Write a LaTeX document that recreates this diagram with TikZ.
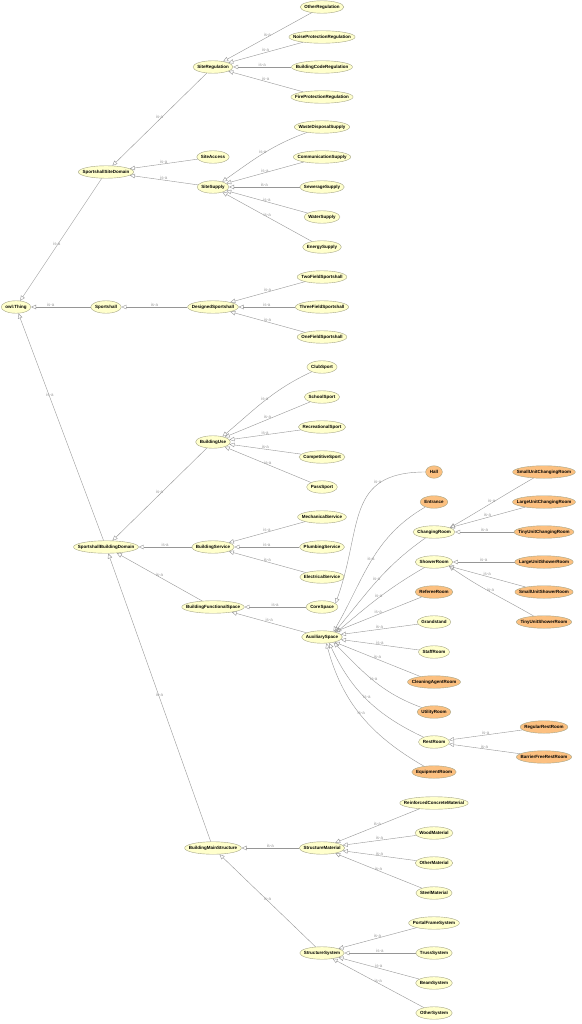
\documentclass[tikz,border=0pt]{standalone}
\usepackage{fontspec}
\setmainfont{Liberation Sans}
\usetikzlibrary{shapes.geometric,arrows.meta}

\definecolor{clsyellow}{RGB}{255,255,204}
\definecolor{clsorange}{RGB}{252,192,128}
\definecolor{clsborder}{RGB}{165,165,135}
\definecolor{isagray}{RGB}{150,150,150}

% ellipse hugs the text a bit tighter than the plain shape
\newcommand{\clsname}[1]{\makebox[0.7071\width]{#1}}

\tikzset{
  cls/.style={shape=ellipse, draw=clsborder, fill=clsyellow, line width=0.4pt,
    inner xsep=3pt, inner ysep=0pt, minimum height=12.5pt,
    text height=3.3pt, text depth=0.9pt,
    font=\fontsize{4.5}{5}\selectfont\bfseries},
  leaf/.style={cls, fill=clsorange},
  isa/.style={draw=isagray, line width=0.4pt, -{Triangle[open,length=5pt,width=4.5pt]}},
  lbl/.style={midway, above, inner sep=0.3pt, text=isagray, font=\fontsize{4.4}{5}\selectfont}
}

\begin{document}
\begin{tikzpicture}[x=1pt, y=-1pt]
\useasboundingbox (0,0) rectangle (581,1024);

% classes
\node[cls] (thing) at (16,307) {\clsname{owl:Thing}};
\foreach \n/\y in {SportshallSiteDomain/172, Sportshall/307, SportshallBuildingDomain/547}
  \node[cls] (\n) at (106,\y) {\clsname{\n}};
\foreach \n/\y in {SiteRegulation/67, SiteAccess/157, SiteSupply/187, DesignedSportshall/307,
    BuildingUse/442, BuildingService/547, BuildingFunctionalSpace/607, BuildingMainStructure/848}
  \node[cls] (\n) at (213,\y) {\clsname{\n}};
\foreach \n/\y in {OtherRegulation/7, NoiseProtectionRegulation/37, BuildingCodeRegulation/67,
    FireProtectionRegulation/97, WasteDisposalSupply/127, CommunicationSupply/157,
    SewerageSupply/187, WaterSupply/217, EnergySupply/247, TwoFieldSportshall/277,
    ThreeFieldSportshall/307, OneFieldSportshall/337, ClubSport/367, SchoolSport/397,
    RecreationalSport/427, CompetitiveSport/457, PassSport/487, MechanicalService/517,
    PlumbingService/547, ElectricalService/577, CoreSpace/607, AuxiliarySpace/637,
    StructureMaterial/848, StructureSystem/953}
  \node[cls] (\n) at (322,\y) {\clsname{\n}};
\foreach \n/\y in {ChangingRoom/532, ShowerRoom/562, Grandstand/622, StaffRoom/652, RestRoom/742,
    ReinforcedConcreteMaterial/803, WoodMaterial/833, OtherMaterial/863, SteelMaterial/893,
    PortalFrameSystem/923, TrussSystem/953, BeamSystem/983, OtherSystem/1013}
  \node[cls] (\n) at (434,\y) {\clsname{\n}};
\foreach \n/\y in {Hall/472, Entrance/502, RefereeRoom/592, CleaningAgentRoom/682,
    UtilityRoom/712, EquipmentRoom/772}
  \node[leaf] (\n) at (434,\y) {\clsname{\n}};
\foreach \n/\y in {SmallUnitChangingRoom/472, LargeUnitChangingRoom/502, TinyUnitChangingRoom/532,
    LargeUnitShowerRoom/562, SmallUnitShowerRoom/592, TinyUnitShowerRoom/622,
    RegularRestRoom/727, BarrierFreeRestRoom/757}
  \node[leaf] (\n) at (544,\y) {\clsname{\n}};

% is-a links to the root
\draw[isa] (SportshallSiteDomain) -- node[lbl,pos=0.55]{is-a} (thing);
\draw[isa] (Sportshall) -- node[lbl,pos=0.67]{is-a} (thing);
\draw[isa] (SportshallBuildingDomain) -- node[lbl,pos=0.63]{is-a} (thing);

% straight is-a links
\foreach \kid/\mom in {SiteRegulation/SportshallSiteDomain, SiteAccess/SportshallSiteDomain,
    SiteSupply/SportshallSiteDomain, DesignedSportshall/Sportshall,
    BuildingUse/SportshallBuildingDomain, BuildingService/SportshallBuildingDomain,
    BuildingFunctionalSpace/SportshallBuildingDomain, BuildingMainStructure/SportshallBuildingDomain,
    OtherRegulation/SiteRegulation, NoiseProtectionRegulation/SiteRegulation,
    BuildingCodeRegulation/SiteRegulation, FireProtectionRegulation/SiteRegulation,
    CommunicationSupply/SiteSupply, SewerageSupply/SiteSupply, WaterSupply/SiteSupply,
    EnergySupply/SiteSupply, TwoFieldSportshall/DesignedSportshall,
    ThreeFieldSportshall/DesignedSportshall, OneFieldSportshall/DesignedSportshall,
    SchoolSport/BuildingUse, RecreationalSport/BuildingUse, CompetitiveSport/BuildingUse,
    PassSport/BuildingUse, MechanicalService/BuildingService, PlumbingService/BuildingService,
    ElectricalService/BuildingService, CoreSpace/BuildingFunctionalSpace,
    AuxiliarySpace/BuildingFunctionalSpace, StructureMaterial/BuildingMainStructure,
    StructureSystem/BuildingMainStructure,
    RefereeRoom/AuxiliarySpace, Grandstand/AuxiliarySpace, StaffRoom/AuxiliarySpace,
    CleaningAgentRoom/AuxiliarySpace, ReinforcedConcreteMaterial/StructureMaterial,
    WoodMaterial/StructureMaterial, OtherMaterial/StructureMaterial, SteelMaterial/StructureMaterial,
    PortalFrameSystem/StructureSystem, TrussSystem/StructureSystem, BeamSystem/StructureSystem,
    OtherSystem/StructureSystem,
    LargeUnitChangingRoom/ChangingRoom, TinyUnitChangingRoom/ChangingRoom,
    LargeUnitShowerRoom/ShowerRoom, SmallUnitShowerRoom/ShowerRoom,
    RegularRestRoom/RestRoom, BarrierFreeRestRoom/RestRoom}
  \draw[isa] (\kid) -- node[lbl]{is-a} (\mom);

% curved is-a links
\draw[isa] (WasteDisposalSupply) to[out=200,in=35] node[lbl]{is-a} (SiteSupply.30);
\draw[isa] (ClubSport) to[out=205,in=40] node[lbl]{is-a} (BuildingUse.30);
\draw[isa] (SmallUnitChangingRoom) to[out=210,in=30] node[lbl]{is-a} (ChangingRoom.15);
\draw[isa] (TinyUnitShowerRoom) to[out=150,in=-35] node[lbl]{is-a} (ShowerRoom.-15);
\draw[isa] (Hall) to[out=180,in=70,looseness=1.3] node[lbl,pos=0.28]{is-a} (CoreSpace.15);
\draw[isa] (Entrance) to[out=210,in=60] node[lbl]{is-a} (AuxiliarySpace.25);
\draw[isa] (ChangingRoom) to[out=215,in=50] node[lbl]{is-a} (AuxiliarySpace.22);
\draw[isa] (ShowerRoom) to[out=210,in=40] node[lbl]{is-a} (AuxiliarySpace.18);
\draw[isa] (UtilityRoom) to[out=160,in=-45] node[lbl]{is-a} (AuxiliarySpace.-25);
\draw[isa] (RestRoom) to[out=155,in=-65] node[lbl]{is-a} (AuxiliarySpace.-40);
\draw[isa] (EquipmentRoom) to[out=150,in=-75] node[lbl]{is-a} (AuxiliarySpace.-55);
\end{tikzpicture}
\end{document}
